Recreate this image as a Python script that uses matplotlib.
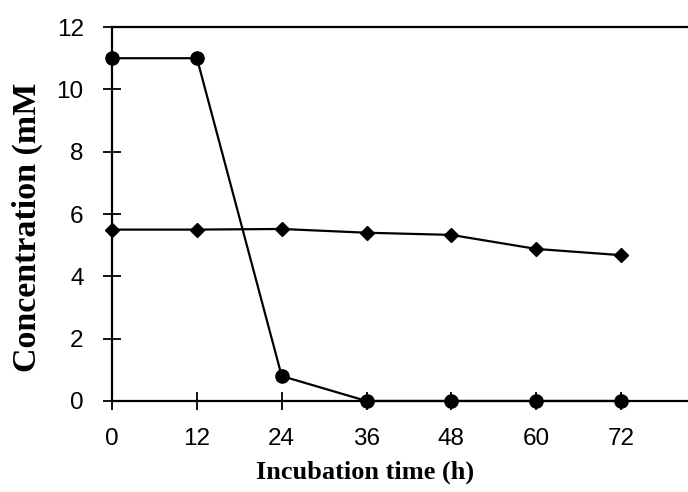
import matplotlib
matplotlib.use("Agg")
import matplotlib.pyplot as plt

# --- DATA ---
hours = [0, 12, 24, 36, 48, 60, 72]
circle_conc = [11.0, 11.0, 0.8, 0.0, 0.0, 0.0, 0.0]
diamond_conc = [5.5, 5.5, 5.52, 5.4, 5.33, 4.88, 4.68]
x_ticks = [0, 12, 24, 36, 48, 60, 72]
y_ticks = [0, 2, 4, 6, 8, 10, 12]

fig = plt.figure(figsize=(6.88, 4.92), dpi=100)
ax = fig.add_axes([0.163, 0.185, 0.837, 0.760])

ax.plot(hours, circle_conc, color="black", lw=1.6, marker="o", ms=9.5, clip_on=False, zorder=3)
ax.plot(hours, diamond_conc, color="black", lw=1.6, marker="D", ms=7.5, clip_on=False, zorder=3)

ax.set_xlim(0, 81.5)
ax.set_ylim(0, 12)
ax.set_xticks(x_ticks)
ax.set_yticks(y_ticks)

for side in ["left", "bottom", "top"]:
    ax.spines[side].set_linewidth(1.6)
ax.spines["right"].set_visible(False)

ax.tick_params(direction="inout", length=13, width=1.3, labelsize=17.5)
ax.tick_params(axis="x", pad=13)
ax.tick_params(axis="y", pad=14)
for lbl in ax.get_xticklabels() + ax.get_yticklabels():
    lbl.set_fontfamily("Liberation Sans")

# x label is a bit narrower, y label longer (the source image is stretched)
ax.set_xlabel("Incubation time (h)", fontsize=19, fontweight="bold",
              fontfamily="Liberation Serif", va="center")
ax.xaxis.set_label_coords(0.44, -0.19)
ax.set_ylabel("Concentration (mM", fontsize=24.5, fontweight="bold",
              fontfamily="Liberation Serif", va="center")
ax.yaxis.set_label_coords(-0.148, 0.465)

plt.savefig("out.png", dpi=100, facecolor="white")
